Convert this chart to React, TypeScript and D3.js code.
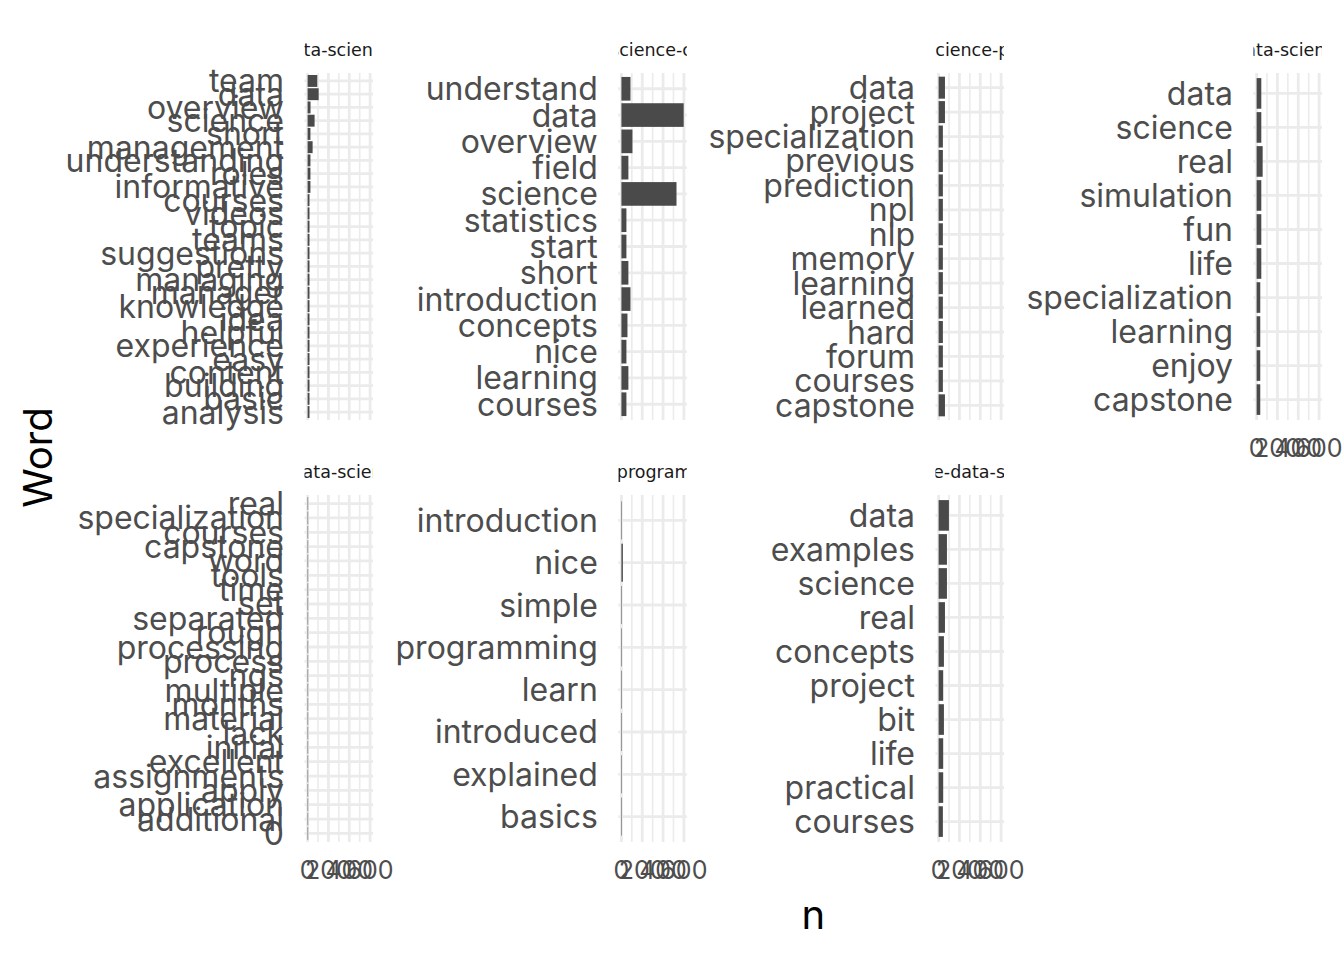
import * as d3 from "d3"
import { useEffect, useRef } from "react"

const WIDTH = 1344
const HEIGHT = 960

const TICK_FONT = "Inter, 'Noto Sans', sans-serif"
const STRIP_FONT = "'DejaVu Sans', sans-serif"
const BAR_COLOR = "#4a4a4a"
const GRID_COLOR = "#ebebeb"

// facet labels (course slugs), in facet order
const facetLabels = [
  "build-data-science-team",
  "data-science-course",
  "data-science-project",
  "executive-data-science-capstone",
  "genomic-data-science-galaxy",
  "the-r-programming",
  "real-life-data-science",
]

// words top -> bottom, with their counts
const words1 = [
  "team", "data", "overview", "science", "short", "management", "understanding", "roles",
  "informative", "courses", "videos", "topic", "teams", "suggestions", "pretty", "managing",
  "manager", "knowledge", "idea", "helpful", "experience", "easy", "content", "building", "basic", "analysis",
]
const counts1 = [93, 106, 28, 67, 27, 48, 27, 27, 27, 18, 18, 18, 18, 18, 18, 18, 18, 18, 18, 18, 18, 18, 18, 18, 18, 18]

const words2 = [
  "understand", "data", "overview", "field", "science", "statistics", "start", "short",
  "introduction", "concepts", "nice", "learning", "courses",
]
const counts2 = [87, 598, 106, 67, 529, 48, 48, 67, 87, 58, 48, 67, 48]

const words3 = [
  "data", "project", "specialization", "previous", "prediction", "npl", "nlp", "memory",
  "learning", "learned", "hard", "forum", "courses", "capstone",
]
const counts3 = [61, 61, 41, 41, 41, 41, 41, 41, 41, 41, 41, 41, 41, 61]

const words4 = ["data", "science", "real", "simulation", "fun", "life", "specialization", "learning", "enjoy", "capstone"]
const counts4 = [45, 45, 58, 45, 45, 45, 35, 35, 35, 35]

const words5 = [
  "real", "specialization", "courses", "capstone", "word", "tools", "time", "set", "separated",
  "rough", "processing", "process", "ngs", "multiple", "months", "material", "lack", "initial",
  "excellent", "assignments", "apply", "application", "additional", "0",
]
const counts5 = [5, 5, 5, 5, 5, 5, 5, 5, 5, 5, 5, 5, 5, 5, 5, 5, 5, 5, 5, 5, 5, 5, 5, 5]

const words6 = ["introduction", "nice", "simple", "programming", "learn", "introduced", "explained", "basics"]
const counts6 = [5, 14, 5, 5, 5, 5, 5, 5]

const words7 = ["data", "examples", "science", "real", "concepts", "project", "bit", "life", "practical", "courses"]
const counts7 = [99, 80, 80, 61, 51, 44, 51, 44, 44, 41]

const xMajor = [0, 200, 400, 600]
const xMinor = [100, 300, 500]

// layout of the 4 x 2 facet grid
const panelLefts = [304.5, 618.3, 935.5, 1253.5]
const panelWidth = 68.5
const rowTops = [73, 495]
const panelHeight = 347

const panels = [
  { label: facetLabels[0], words: words1, counts: counts1 },
  { label: facetLabels[1], words: words2, counts: counts2 },
  { label: facetLabels[2], words: words3, counts: counts3 },
  { label: facetLabels[3], words: words4, counts: counts4 },
  { label: facetLabels[4], words: words5, counts: counts5 },
  { label: facetLabels[5], words: words6, counts: counts6 },
  { label: facetLabels[6], words: words7, counts: counts7 },
]

export default function App() {
  const svgRef = useRef<SVGSVGElement | null>(null)

  useEffect(() => {
    if (!svgRef.current) return
    const svg = d3.select(svgRef.current)
    svg.selectAll("*").remove()

    svg.append("rect").attr("width", WIDTH).attr("height", HEIGHT).attr("fill", "#fff")

    const maxN = d3.max(panels.flatMap((p) => p.counts)) as number
    const pad = maxN * 0.05

    panels.forEach((p, i) => {
      const col = i % 4
      const row = Math.floor(i / 4)
      const left = panelLefts[col]
      const top = rowTops[row]

      const x = d3.scaleLinear().domain([-pad, maxN + pad]).range([left, left + panelWidth])
      const y = d3.scalePoint<string>().domain(p.words).range([top, top + panelHeight]).padding(0.6)
      const step = y.step()

      const g = svg.append("g")

      // grid
      g.selectAll(".minor")
        .data(xMinor)
        .enter()
        .append("line")
        .attr("x1", (d) => x(d))
        .attr("x2", (d) => x(d))
        .attr("y1", top)
        .attr("y2", top + panelHeight)
        .attr("stroke", GRID_COLOR)
        .attr("stroke-width", 1.6)

      g.selectAll(".major")
        .data(xMajor)
        .enter()
        .append("line")
        .attr("x1", (d) => x(d))
        .attr("x2", (d) => x(d))
        .attr("y1", top)
        .attr("y2", top + panelHeight)
        .attr("stroke", GRID_COLOR)
        .attr("stroke-width", 2.8)

      g.selectAll(".hgrid")
        .data(p.words)
        .enter()
        .append("line")
        .attr("x1", left)
        .attr("x2", left + panelWidth)
        .attr("y1", (d) => y(d)!)
        .attr("y2", (d) => y(d)!)
        .attr("stroke", GRID_COLOR)
        .attr("stroke-width", 2.8)

      // bars
      g.selectAll(".bar")
        .data(p.words.map((w, j) => ({ w, n: p.counts[j] })))
        .enter()
        .append("rect")
        .attr("x", x(0))
        .attr("y", (d) => y(d.w)! - (step * 0.9) / 2)
        .attr("width", (d) => x(d.n) - x(0))
        .attr("height", step * 0.9)
        .attr("fill", BAR_COLOR)

      // y labels
      g.selectAll(".ylab")
        .data(p.words)
        .enter()
        .append("text")
        .attr("x", left - 20.5)
        .attr("y", (d) => y(d)!)
        .attr("dy", "0.36em")
        .attr("text-anchor", "end")
        .style("font-family", TICK_FONT)
        .style("font-size", "32px")
        .style("fill", "#4d4d4d")
        .text((d) => d)

      // strip, clipped to the panel width
      const clipId = `strip-clip-${i}`
      svg
        .append("clipPath")
        .attr("id", clipId)
        .append("rect")
        .attr("x", left)
        .attr("y", top - 34)
        .attr("width", panelWidth)
        .attr("height", 34)

      svg
        .append("text")
        .attr("clip-path", `url(#${clipId})`)
        .attr("x", left + panelWidth / 2)
        .attr("y", top - 17)
        .attr("text-anchor", "middle")
        .style("font-family", STRIP_FONT)
        .style("font-size", "17.5px")
        .style("fill", "#1a1a1a")
        .text(p.label)

      // x axis labels on panels that have nothing below them
      const hasBelow = i + 4 < panels.length
      if (!hasBelow) {
        g.selectAll(".xlab")
          .data(xMajor)
          .enter()
          .append("text")
          .attr("x", (d) => x(d))
          .attr("y", top + panelHeight + 37)
          .attr("text-anchor", "middle")
          .style("font-family", TICK_FONT)
          .style("font-size", "25px")
          .style("fill", "#4d4d4d")
          .text((d) => d3.format("d")(d))
      }
    })

    // axis titles
    svg
      .append("text")
      .attr("x", (panelLefts[0] + panelLefts[3] + panelWidth) / 2)
      .attr("y", 929)
      .attr("text-anchor", "middle")
      .style("font-family", TICK_FONT)
      .style("font-size", "40px")
      .style("fill", "#000")
      .text("n")

    svg
      .append("text")
      .attr("transform", `translate(52,${rowTops[0] + (rowTops[1] + panelHeight - rowTops[0]) / 2}) rotate(-90)`)
      .attr("text-anchor", "middle")
      .style("font-family", TICK_FONT)
      .style("font-size", "40px")
      .style("fill", "#000")
      .text("Word")
  }, [])

  return (
    <div style={{ position: "absolute", left: 0, top: 0 }}>
      <svg ref={svgRef} width={WIDTH} height={HEIGHT} xmlns="http://www.w3.org/2000/svg" />
    </div>
  )
}
